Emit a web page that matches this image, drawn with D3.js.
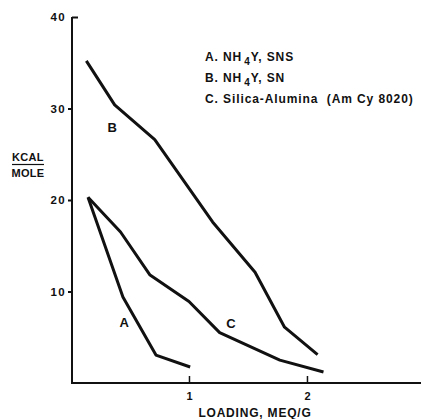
<!DOCTYPE html>
<html><head><meta charset="utf-8">
<script src="https://cdn.jsdelivr.net/npm/d3@7"></script>
<style>
body{margin:0;background:#fff;}
text{font-family:"Liberation Sans",Arial,sans-serif;font-weight:bold;fill:#111;}
</style></head><body>
<svg id="c" width="421" height="419"></svg>
<script>
const seriesA = [[0.144,20.3],[0.44,9.4],[0.72,3.05],[1.01,1.75]];
const seriesB = [[0.13,35.2],[0.37,30.4],[0.71,26.6],[1.2,17.6],[1.56,12.1],[1.81,6.1],[2.09,3.1]];
const seriesC = [[0.144,20.3],[0.42,16.5],[0.67,11.8],[1.0,8.9],[1.26,5.5],[1.77,2.5],[2.14,1.2]];
const yTicks = [10,20,30,40];
const xTicks = [1,2];
const curveLabels = [["A",0.45,6.1],["B",0.35,27.4],["C",1.356,6.0]];
const legendItems = [["A. NH","4","Y, SNS"],["B. NH","4","Y, SN"],["C. Silica-Alumina\u00a0\u00a0(Am Cy 8020)","",""]];

const svg = d3.select("#c");
const x = d3.scaleLinear().domain([0, 2.958]).range([71, 420]);
const y = d3.scaleLinear().domain([0, 40]).range([383, 17]);

// axes
const ax = d3.axisLeft(y).tickValues(yTicks).tickSize(4).tickPadding(2).tickFormat(d3.format("d"));
const gy = svg.append("g").attr("transform","translate(72,0)").call(ax);
gy.select(".domain").attr("d", `M0,${y(40)}V${y(0)}`).attr("stroke","#111").attr("stroke-width",2);
gy.selectAll(".tick line").attr("stroke","#111").attr("stroke-width",2);
gy.selectAll(".tick").filter(d=>d===40).select("line").attr("x2",6);
gy.selectAll(".tick text").attr("font-size",11.5).style("letter-spacing","1.3px").attr("fill","#111");

const gx = svg.append("g").attr("transform","translate(0,383)").call(d3.axisBottom(x).tickValues(xTicks).tickSize(-7).tickPadding(9).tickFormat(d3.format("d")));
gx.select(".domain").attr("d", `M71,0H421`).attr("stroke","#111").attr("stroke-width",2);
gx.selectAll(".tick line").attr("stroke","#111").attr("stroke-width",1.5);
gx.selectAll(".tick text").attr("font-size",11).attr("fill","#111");

// axis titles
svg.append("text").attr("x",255).attr("y",417).attr("text-anchor","middle").attr("font-size",12).style("letter-spacing","0.8px").text("LOADING, MEQ/G");
svg.append("text").attr("x",28).attr("y",161).attr("text-anchor","middle").attr("font-size",11).style("letter-spacing","0.3px").text("KCAL");
svg.append("line").attr("x1",12).attr("x2",44).attr("y1",164.5).attr("y2",164.5).attr("stroke","#111").attr("stroke-width",1.2);
svg.append("text").attr("x",28).attr("y",177).attr("text-anchor","middle").attr("font-size",11).style("letter-spacing","0.3px").text("MOLE");

// curves
const line = d3.line().x(d=>x(d[0])).y(d=>y(d[1]));
[seriesA, seriesB, seriesC].forEach(s=>{
  svg.append("path").attr("d", line(s)).attr("fill","none").attr("stroke","#111")
    .attr("stroke-width",3).attr("stroke-linejoin","round");
});
curveLabels.forEach(([t,a,b])=>{
  svg.append("text").attr("x",x(a)).attr("y",y(b)).attr("text-anchor","middle").attr("font-size",13).text(t);
});

// legend
legendItems.forEach((it,i)=>{
  const t = svg.append("text").attr("x",205).attr("y",61 + i*21).attr("font-size",12).style("letter-spacing","0.9px");
  t.append("tspan").text(it[0]);
  if (it[1]) {
    t.append("tspan").attr("dy",4).attr("dx",2).attr("font-size",10).text(it[1]);
    t.append("tspan").attr("dy",-4).text(it[2]);
  }
});
</script></body></html>
